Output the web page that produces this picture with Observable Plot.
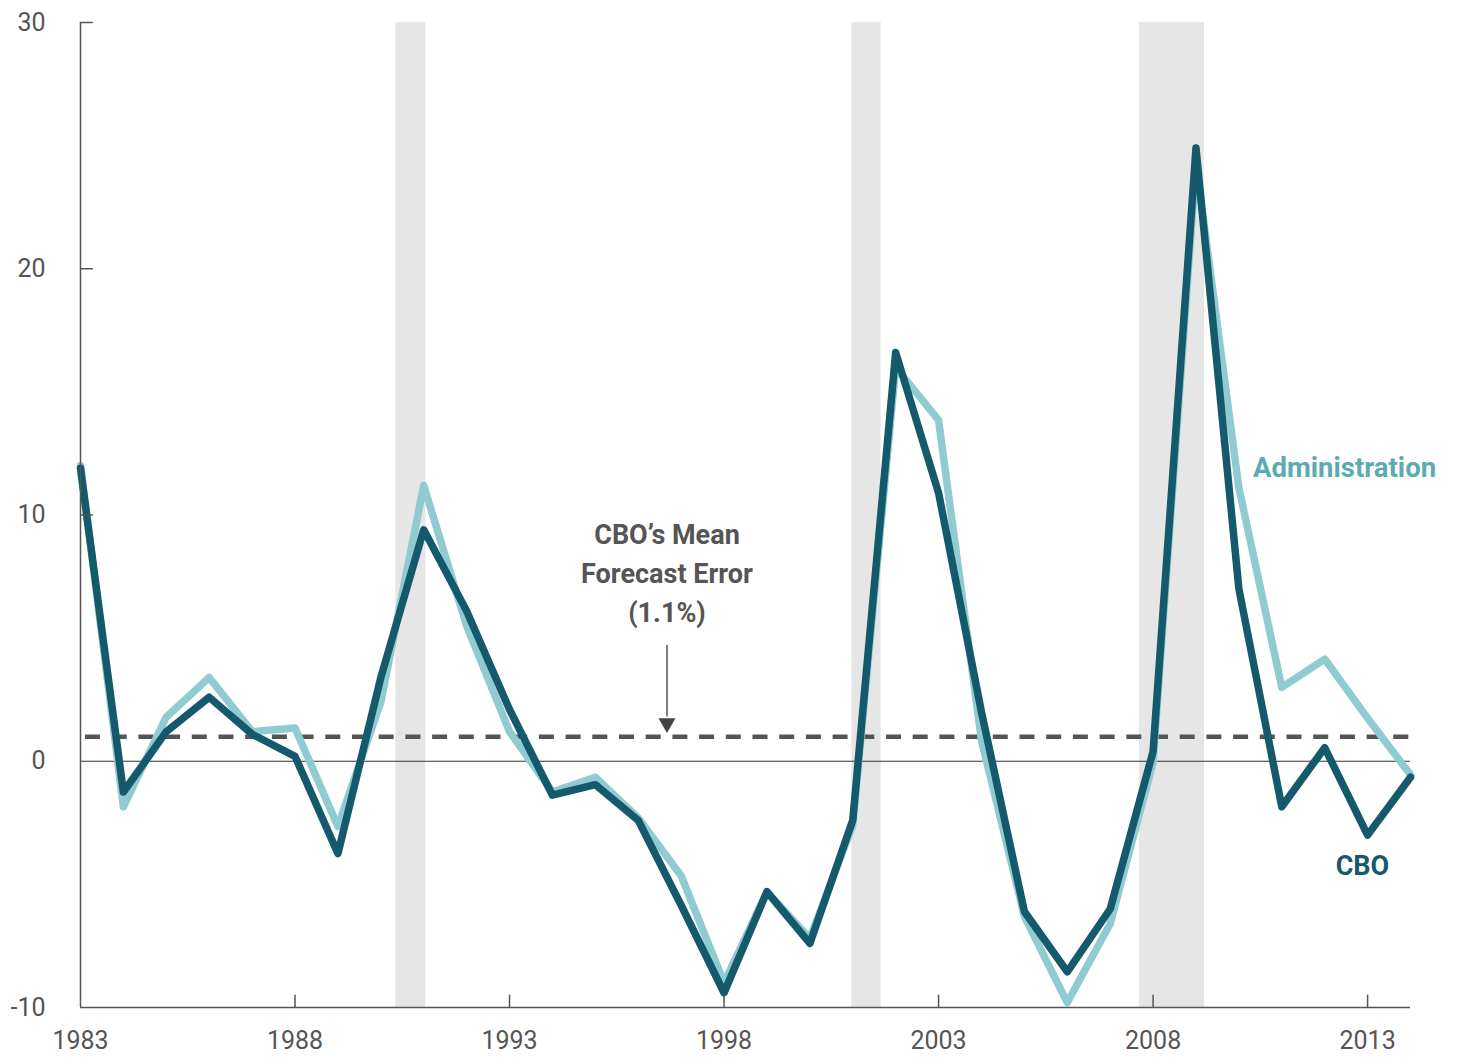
<!DOCTYPE html>
<html>
<head>
<meta charset="utf-8">
<script src="https://cdn.jsdelivr.net/npm/d3@7"></script>
<script src="https://cdn.jsdelivr.net/npm/@observablehq/plot@0.6"></script>
<style>
  body { margin: 0; background: #fff; }
  #chart svg { display: block; }
</style>
</head>
<body>
<div id="chart"></div>
<script>
const years = [1983, 1984, 1985, 1986, 1987, 1988, 1989, 1990, 1991, 1992, 1993, 1994, 1995, 1996, 1997, 1998,
  1999, 2000, 2001, 2002, 2003, 2004, 2005, 2006, 2007, 2008, 2009, 2010, 2011, 2012, 2013, 2014];
const cbo = [11.9, -1.25, 1.2, 2.6, 1.1, 0.2, -3.75, 3.4, 9.4, 6.1, 2.1, -1.38, -0.95, -2.4, -5.85, -9.4,
  -5.3, -7.4, -2.4, 16.6, 10.9, 2.0, -6.1, -8.55, -6.0, 0.4, 24.9, 7.0, -1.85, 0.55, -3.0, -0.65];
const administration = [12.0, -1.85, 1.8, 3.4, 1.2, 1.35, -2.65, 2.4, 11.2, 5.5, 1.2, -1.25, -0.65, -2.3, -4.65, -9.0,
  -5.3, -7.2, -2.6, 16.0, 13.85, 0.85, -6.3, -9.8, -6.6, -0.05, 24.3, 11.1, 3.0, 4.15, 1.75, -0.55];
const recessionStart = [1990.35, 2000.98, 2007.68];
const recessionEnd = [1991.05, 2001.66, 2009.2];
const cboMeanError = 1.0;
const xTicks = [1983, 1988, 1993, 1998, 2003, 2008, 2013];
const yTicks = [-10, 0, 10, 20, 30];

const cboRows = years.map((year, i) => ({year, value: cbo[i]}));
const adminRows = years.map((year, i) => ({year, value: administration[i]}));
const bands = recessionStart.map((s, i) => ({start: s, end: recessionEnd[i]}));

const grey = "#555555";
const chart = Plot.plot({
  width: 1459,
  height: 1057,
  marginLeft: 80,
  marginRight: 49,
  marginTop: 22,
  marginBottom: 50,
  x: {domain: [1983, 2014]},
  y: {domain: [-10, 30]},
  style: {fontFamily: "Roboto, sans-serif", fontSize: "25px", color: grey, background: "#fff", overflow: "visible"},
  marks: [
    Plot.rect(bands, {x1: "start", x2: "end", y1: -10, y2: 30, fill: "#e6e6e6"}),
    Plot.ruleY([0], {stroke: "#333", strokeWidth: 1.2}),
    Plot.ruleY([cboMeanError], {stroke: grey, strokeWidth: 4.5, strokeDasharray: "15,11.7", strokeDashoffset: -5}),
    Plot.line(adminRows, {x: "year", y: "value", stroke: "#8fcbd1", strokeWidth: 7.5, strokeLinejoin: "round"}),
    Plot.line(cboRows, {x: "year", y: "value", stroke: "#15596d", strokeWidth: 7.5, strokeLinejoin: "round"}),
    Plot.ruleX([1983], {y1: -10, y2: 30, stroke: grey, strokeWidth: 1.5}),
    Plot.ruleY([-10], {x1: 1983, x2: 2014, stroke: grey, strokeWidth: 1.5}),
    Plot.ruleY(yTicks.filter(d => d > 0), {x1: 1983, x2: 1983.3, stroke: grey, strokeWidth: 1.5}),
    Plot.ruleX(xTicks.slice(1), {y1: -10, y2: -9.5, stroke: grey, strokeWidth: 1.5}),
    Plot.axisY({ticks: yTicks, tickSize: 0, tickPadding: 35, label: null, fill: grey, tickFormat: d => String(d)}),
    Plot.axisX({ticks: xTicks, tickSize: 0, tickPadding: 24, label: null, tickFormat: d => String(d), fill: grey}),
    Plot.text(["CBO’s Mean\nForecast Error\n(1.1%)"], {
      x: 1996.67, y: 7.75, text: d => d, fill: grey, fontWeight: "bold", fontSize: 27, lineHeight: 1.44, textAnchor: "middle"
    }),
    Plot.ruleX([1996.67], {y1: 4.7, y2: 1.8, stroke: grey, strokeWidth: 1.5}),
    Plot.dot([cboMeanError], {x: 1996.67, y: 1.55, symbol: "triangle", r: 6.3, rotate: 180, fill: "#444", stroke: null}),
    Plot.text(["Administration"], {x: 2010.33, y: 11.9, text: d => d, textAnchor: "start", fill: "#5aabb2", fontWeight: "bold", fontSize: 27.5}),
    Plot.text(["CBO"], {x: 2012.88, y: -4.26, text: d => d, textAnchor: "middle", fill: "#15596d", fontWeight: "bold", fontSize: 27})
  ]
});
document.getElementById("chart").appendChild(chart);
</script>
</body>
</html>
